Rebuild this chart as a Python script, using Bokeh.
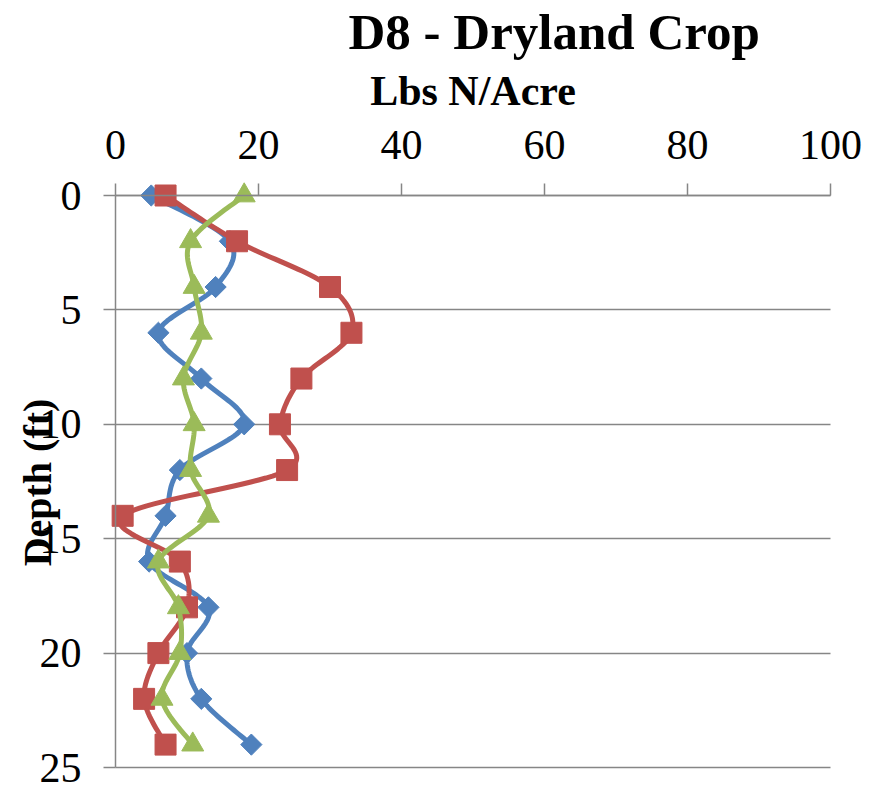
import numpy as np
from bokeh.plotting import figure
from bokeh.models import Range1d, FixedTicker, Label, Grid
from bokeh.embed import file_html
from bokeh.resources import INLINE

# Soil nitrate profile, Lbs N/Acre by depth (ft)
depth = [0, 2, 4, 6, 8, 10, 12, 14, 16, 18, 20, 22, 24]
series_blue = [5, 16, 14, 6, 12, 18, 9, 7, 4.7, 13, 10, 12, 19]
series_red = [7, 17, 30, 33, 26, 23, 24, 1, 9, 10, 6, 4, 7]
series_green = [18, 10.5, 11, 12, 9.5, 11, 10.5, 13, 6, 8.8, 9, 6.5, 10.8]

x_ticks = [0, 20, 40, 60, 80, 100]
y_ticks = [0, 5, 10, 15, 20, 25]

FONT = "Liberation Serif"
GRID = "#868686"

# The frame fills the whole canvas; both axes are pinned at the zero lines,
# so the header texts can sit freely above the plotting area.
W, H = 875, 786
PLOT_L, PLOT_R, PLOT_T, PLOT_B = 115, 830, 195, 767
px_per_n = (PLOT_R - PLOT_L) / 100.0
px_per_ft = (PLOT_B - PLOT_T) / 25.0
x_lo, x_hi = -PLOT_L / px_per_n, (W - PLOT_L) / px_per_n
y_top, y_bottom = -PLOT_T / px_per_ft, (H - PLOT_T) / px_per_ft


def smooth_curve(xs, ys, n=24):
    """Catmull-Rom style cubic Bezier through the points, computed in screen-scaled space."""
    P = np.column_stack([np.asarray(xs, float) * px_per_n, np.asarray(ys, float) * px_per_ft])
    out = []
    m = len(P)
    t = np.linspace(0, 1, n)[:, None]
    for i in range(m - 1):
        p0 = P[i - 1] if i > 0 else P[i]
        p1 = P[i]
        p2 = P[i + 1]
        p3 = P[i + 2] if i + 2 < m else P[i + 1]
        c1 = p1 + (p2 - p0) / 6.0
        c2 = p2 - (p3 - p1) / 6.0
        seg = ((1 - t) ** 3) * p1 + 3 * ((1 - t) ** 2) * t * c1 + 3 * (1 - t) * t ** 2 * c2 + t ** 3 * p2
        if i > 0:
            seg = seg[1:]
        out.append(seg)
    C = np.vstack(out)
    return C[:, 0] / px_per_n, C[:, 1] / px_per_ft


p = figure(
    width=W, height=H, title=None,
    x_range=Range1d(x_lo, x_hi), y_range=Range1d(y_bottom, y_top),
    x_axis_location="above",
    output_backend="svg", toolbar_location=None,
    min_border_left=0, min_border_right=0,
    min_border_top=0, min_border_bottom=0,
)
p.outline_line_color = None
p.background_fill_color = "white"
p.border_fill_color = "white"

# horizontal grid lines at the depth ticks, spanning 0-100 only
p.xgrid.visible = False
p.ygrid.visible = False
if "cross_bounds" in Grid.properties():
    g = Grid(dimension=1, ticker=FixedTicker(ticks=y_ticks), bounds=(0, 25),
             cross_bounds=(0, 100), grid_line_color=GRID, grid_line_width=1.5)
    p.add_layout(g)
else:
    p.segment(x0=[0] * len(y_ticks), y0=y_ticks, x1=[100] * len(y_ticks), y1=y_ticks,
              line_color=GRID, line_width=1.5)

# top axis, pinned at depth 0
xa = p.xaxis[0]
xa.fixed_location = 0
xa.bounds = (0, 100)
xa.ticker = FixedTicker(ticks=x_ticks)
xa.axis_label = "Lbs N/Acre"
xa.axis_label_text_font = FONT
xa.axis_label_text_font_size = "42px"
xa.axis_label_text_font_style = "bold"
xa.axis_label_text_color = "black"
xa.axis_label_standoff = 14
xa.major_label_text_font = FONT
xa.major_label_text_font_size = "42px"
xa.major_label_text_color = "black"
xa.major_label_standoff = 25
xa.axis_line_color = GRID
xa.axis_line_width = 1.5
xa.major_tick_line_color = GRID
xa.major_tick_line_width = 1.5
xa.major_tick_out = 12
xa.major_tick_in = 0
xa.minor_tick_line_color = None

# left axis, pinned at 0 Lbs N/Acre
ya = p.yaxis[0]
ya.fixed_location = 0
ya.bounds = (0, 25)
ya.ticker = FixedTicker(ticks=y_ticks)
ya.major_label_text_font = FONT
ya.major_label_text_font_size = "42px"
ya.major_label_text_color = "black"
ya.major_label_standoff = 22
ya.axis_line_color = GRID
ya.axis_line_width = 1.5
ya.major_tick_line_color = GRID
ya.major_tick_line_width = 1.5
ya.major_tick_out = 12
ya.major_tick_in = 0
ya.minor_tick_line_color = None

# chart title
p.add_layout(Label(
    x=348, y=H - 31, x_units="screen", y_units="screen",
    text="D8 - Dryland Crop", text_font=FONT, text_font_size="51px",
    text_font_style="bold", text_color="black",
    text_align="left", text_baseline="alphabetic",
))

# depth title, over the tick labels
p.add_layout(Label(
    x=37, y=H - 482, x_units="screen", y_units="screen", angle=np.pi / 2,
    text="Depth (ft)", text_font=FONT, text_font_size="40px",
    text_font_style="bold", text_color="black",
    text_align="center", text_baseline="middle",
))

BLUE, RED, GREEN = "#4F81BD", "#C0504D", "#9BBB59"

bx, by = smooth_curve(series_blue, depth)
p.line(bx, by, line_color=BLUE, line_width=5, line_join="round")
p.scatter(series_blue, depth, marker="square", angle=np.pi / 4, size=15,
          fill_color=BLUE, line_color=BLUE)

rx, ry = smooth_curve(series_red, depth)
p.line(rx, ry, line_color=RED, line_width=5, line_join="round")
p.scatter(series_red, depth, marker="square", size=21,
          fill_color=RED, line_color=RED)

gx, gy = smooth_curve(series_green, depth)
p.line(gx, gy, line_color=GREEN, line_width=5, line_join="round")
p.scatter(series_green, depth, marker="triangle", size=22,
          fill_color=GREEN, line_color=GREEN)

open("out.html", "w").write(file_html(p, INLINE))
